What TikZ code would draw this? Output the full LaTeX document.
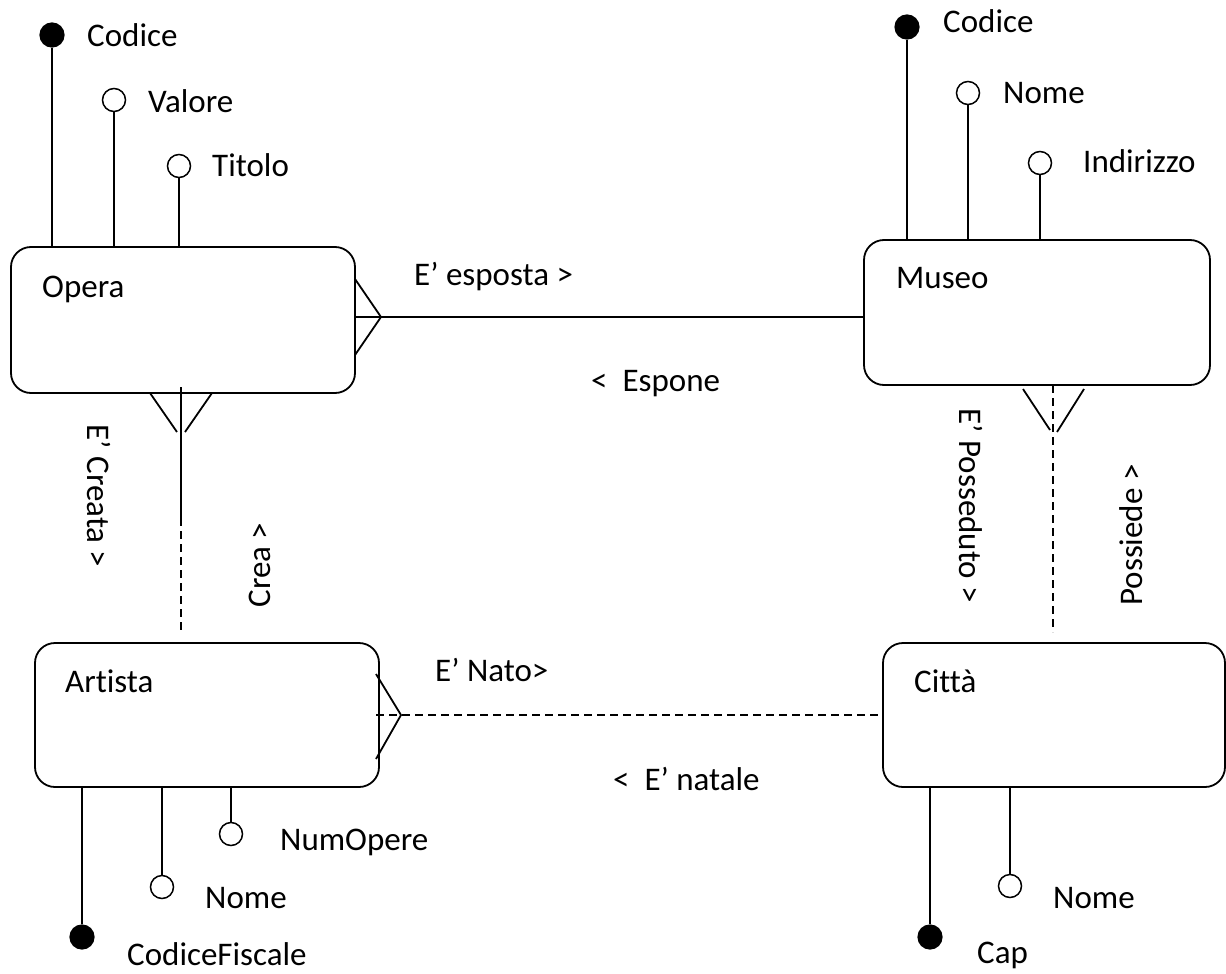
\documentclass[tikz,border=0pt]{standalone}
\usepackage{fontspec}
\setmainfont{Carlito}[Ligatures={NoCommon}]
\usetikzlibrary{calc}
\begin{document}
\begin{tikzpicture}[x=1pt,y=-1pt,
  ent/.style={draw, line width=1.8pt, rounded corners=20pt, inner sep=0pt, outer sep=0pt, anchor=north west},
  txt/.style={font=\fontsize{33}{40}\selectfont, inner sep=0pt, anchor=base west},
  rtxt/.style={font=\fontsize{33}{40}\selectfont, inner sep=0pt},
  keyatt/.style={circle, fill=black, draw, line width=1.2pt, minimum size=24pt, inner sep=0pt},
  optatt/.style={circle, fill=white, draw, line width=1.5pt, minimum size=23pt, inner sep=0pt},
  conn/.style={line width=1.8pt},
  dconn/.style={line width=1.8pt, dash pattern=on 8pt off 5pt},
]
\useasboundingbox (0,0) rectangle (1226,974);

% entities
\node[ent, minimum width=344pt, minimum height=146pt] (opera) at (11,247) {};
\node[ent, minimum width=346pt, minimum height=145pt] (museo) at (864,240) {};
\node[ent, minimum width=344pt, minimum height=144pt] (artista) at (35,643) {};
\node[ent, minimum width=342pt, minimum height=144pt] (citta) at (883,643) {};

\node[txt] (operaT) at (42,297) {Opera};
\node[txt] (museoT) at (896,288) {Museo};
\node[txt] (artistaT) at (65,692) {Artista};
\node[txt] (cittaT) at (914,692) {Città};

% Opera attributes
\node[keyatt] (opCod) at (52,35) {};
\node[optatt] (opVal) at (114,100) {};
\node[optatt] (opTit) at (179,166) {};
\draw[conn] (opCod) -- (opCod |- opera.north);
\draw[conn] (opVal) -- (opVal |- opera.north);
\draw[conn] (opTit) -- (opTit |- opera.north);
\node[txt] (opCodT) at (87,47) {Codice};
\node[txt] (opValT) at (148,112) {Valore};
\node[txt] (opTitT) at (212,176) {Titolo};

% Museo attributes
\node[keyatt] (muCod) at (907,27) {};
\node[optatt] (muNom) at (968,93) {};
\node[optatt] (muInd) at (1040,163) {};
\draw[conn] (muCod) -- (muCod |- museo.north);
\draw[conn] (muNom) -- (muNom |- museo.north);
\draw[conn] (muInd) -- (muInd |- museo.north);
\node[txt] (muCodT) at (943,33) {Codice};
\node[txt] (muNomT) at (1003,103) {Nome};
\node[txt] (muIndT) at (1083,172) {Indirizzo};

% Artista attributes
\node[keyatt] (arCF) at (82,937) {};
\node[optatt] (arNom) at (162,887) {};
\node[optatt] (arNum) at (231,834) {};
\draw[conn] (arCF) -- (arCF |- artista.south);
\draw[conn] (arNom) -- (arNom |- artista.south);
\draw[conn] (arNum) -- (arNum |- artista.south);
\node[txt] (arCFT) at (127,965) {CodiceFiscale};
\node[txt] (arNomT) at (205,908) {Nome};
\node[txt] (arNumT) at (280,850) {NumOpere};

% Citta attributes
\node[keyatt] (ciCap) at (930,937) {};
\node[optatt] (ciNom) at (1010,886) {};
\draw[conn] (ciCap) -- (ciCap |- citta.south);
\draw[conn] (ciNom) -- (ciNom |- citta.south);
\node[txt] (ciCapT) at (977,963) {Cap};
\node[txt] (ciNomT) at (1053,908) {Nome};

% Opera - Museo
\draw[conn] (opera.east) ++(0,-3) coordinate (om1) -- (om1 -| museo.west);
\draw[conn] (om1) ++(0,-38) -- ++(26,38) -- ++(-26,38);
\node[txt] (espostaT) at (414,285) {E’ esposta >};
\node[txt] (esponeT) at (591,391) {<\ \ Espone};

% Opera - Artista
\draw[conn] (opera.south) ++(-2,-6) coordinate (oa0) -- ++(0,131) coordinate (oa1);
\draw[dconn] (oa1) -- ($(oa1 |- artista.north)+(0,-10)$);
\draw[conn] (opera.south) ++(-33,0) -- ++(27,39);
\draw[conn] (opera.south) ++(29,0) -- ++(-27,39);
\node[rtxt, rotate=-90] (creataT) at (99,496) {E’ Creata >};
\node[rtxt, rotate=90] (creaT) at (260,565) {Crea >};

% Museo - Citta
\draw[dconn] (museo.south) ++(16,0) coordinate (mc0) -- ($(mc0 |- citta.north)+(0,-11)$);
\draw[conn] (museo.south) ++(-14,4) -- ++(27,41);
\draw[conn] (museo.south) ++(47,4) -- ++(-27,43);
\node[rtxt, rotate=-90] (possedutoT) at (971,506) {E’ Posseduto >};
\node[rtxt, rotate=90] (possiedeT) at (1131,535) {Possiede >};

% Artista - Citta
\draw[dconn] (artista.east) ++(-3,0) coordinate (ac0) -- (ac0 -| citta.west);
\draw[conn] (artista.east) ++(-3,-41) -- ++(25,41) -- ++(-25,44);
\node[txt] (natoT) at (435,681) {E’ Nato>};
\node[txt] (nataleT) at (613,790) {<\ \ E’ natale};

\end{tikzpicture}
\end{document}
